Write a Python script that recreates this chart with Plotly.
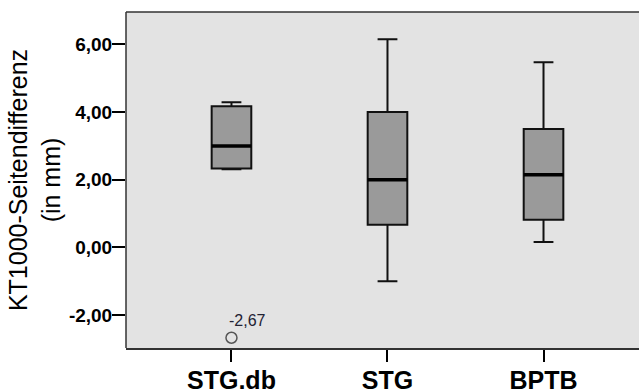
import plotly.graph_objects as go

# Summary statistics per group (mm)
groups = ["STG,db", "STG", "BPTB"]
q1 = [2.33, 0.67, 0.82]
median = [3.00, 2.00, 2.15]
q3 = [4.17, 4.00, 3.50]
lower_whisker = [2.31, -1.00, 0.16]
upper_whisker = [4.29, 6.15, 5.47]

# Outliers: (group index, value)
outlier_group = [0]
outlier_value = [-2.67]

y_ticks = [-2, 0, 2, 4, 6]
y_tick_labels = ["-2,00", "0,00", "2,00", "4,00", "6,00"]

FONT = "Liberation Sans, Arial, sans-serif"
BOX_W = 0.254
xpos = list(range(len(groups)))

fig = go.Figure()

fig.add_trace(go.Box(
    x=xpos,
    q1=q1, median=median, q3=q3,
    lowerfence=lower_whisker, upperfence=upper_whisker,
    width=BOX_W,
    whiskerwidth=0.5,
    fillcolor="#9a9a9a",
    line=dict(color="#111111", width=2),
    boxpoints=False,
    hoverinfo="skip",
    showlegend=False,
))

# Heavier median bars on top of each box
for i, m in zip(xpos, median):
    fig.add_trace(go.Scatter(
        x=[i - BOX_W / 2, i + BOX_W / 2], y=[m, m],
        mode="lines", line=dict(color="#000000", width=3.5),
        hoverinfo="skip", showlegend=False,
    ))

# Outlier points
fig.add_trace(go.Scatter(
    x=outlier_group, y=outlier_value,
    mode="markers",
    marker=dict(symbol="circle-open", size=11, color="#555555", line=dict(width=1.5)),
    hoverinfo="skip", showlegend=False,
))

# Value labels next to the outliers
for g, v in zip(outlier_group, outlier_value):
    fig.add_annotation(
        x=g, y=v, text=f"{v:.2f}".replace(".", ","),
        showarrow=False, xanchor="left", yanchor="middle",
        xshift=-4, yshift=17,
        font=dict(family=FONT, size=16, color="#222233"),
    )

# Frame of the plot area: top and left edges, open on the right side
frame = dict(color="#333333", width=1.5)
fig.add_shape(type="line", xref="paper", yref="paper",
              x0=0, x1=1, y0=1, y1=1, line=frame)
fig.add_shape(type="line", xref="paper", yref="paper",
              x0=0, x1=0, y0=0, y1=1, line=frame)

fig.update_layout(
    width=639, height=389,
    margin=dict(l=126, r=0, t=12, b=41, pad=0),
    paper_bgcolor="white",
    plot_bgcolor="#e3e3e3",
    template="none",
    font=dict(family=FONT, color="#000000"),
    xaxis=dict(
        range=[-0.676, 2.612],
        tickvals=xpos, ticktext=groups,
        tickfont=dict(family=FONT, size=25, weight="bold", color="#000000"),
        ticks="outside", ticklen=12, tickwidth=2, tickcolor="#000000",
        ticklabelstandoff=-3,
        showline=True, linecolor="#333333", linewidth=1.5, mirror=False,
        showgrid=False, zeroline=False,
    ),
    yaxis=dict(
        range=[-2.973, 6.957],
        tickvals=y_ticks, ticktext=y_tick_labels,
        tickfont=dict(family=FONT, size=19, weight="bold", color="#000000"),
        ticks="outside", ticklen=13, tickwidth=2, tickcolor="#000000",
        ticklabelstandoff=-4,
        showline=False, mirror=False,
        showgrid=False, zeroline=False,
        title=dict(text="KT1000-Seitendifferenz<br>(in mm)",
                   font=dict(family=FONT, size=25, color="#000000"),
                   standoff=1),
    ),
)

fig.write_html("out.html", config={"displayModeBar": False})
